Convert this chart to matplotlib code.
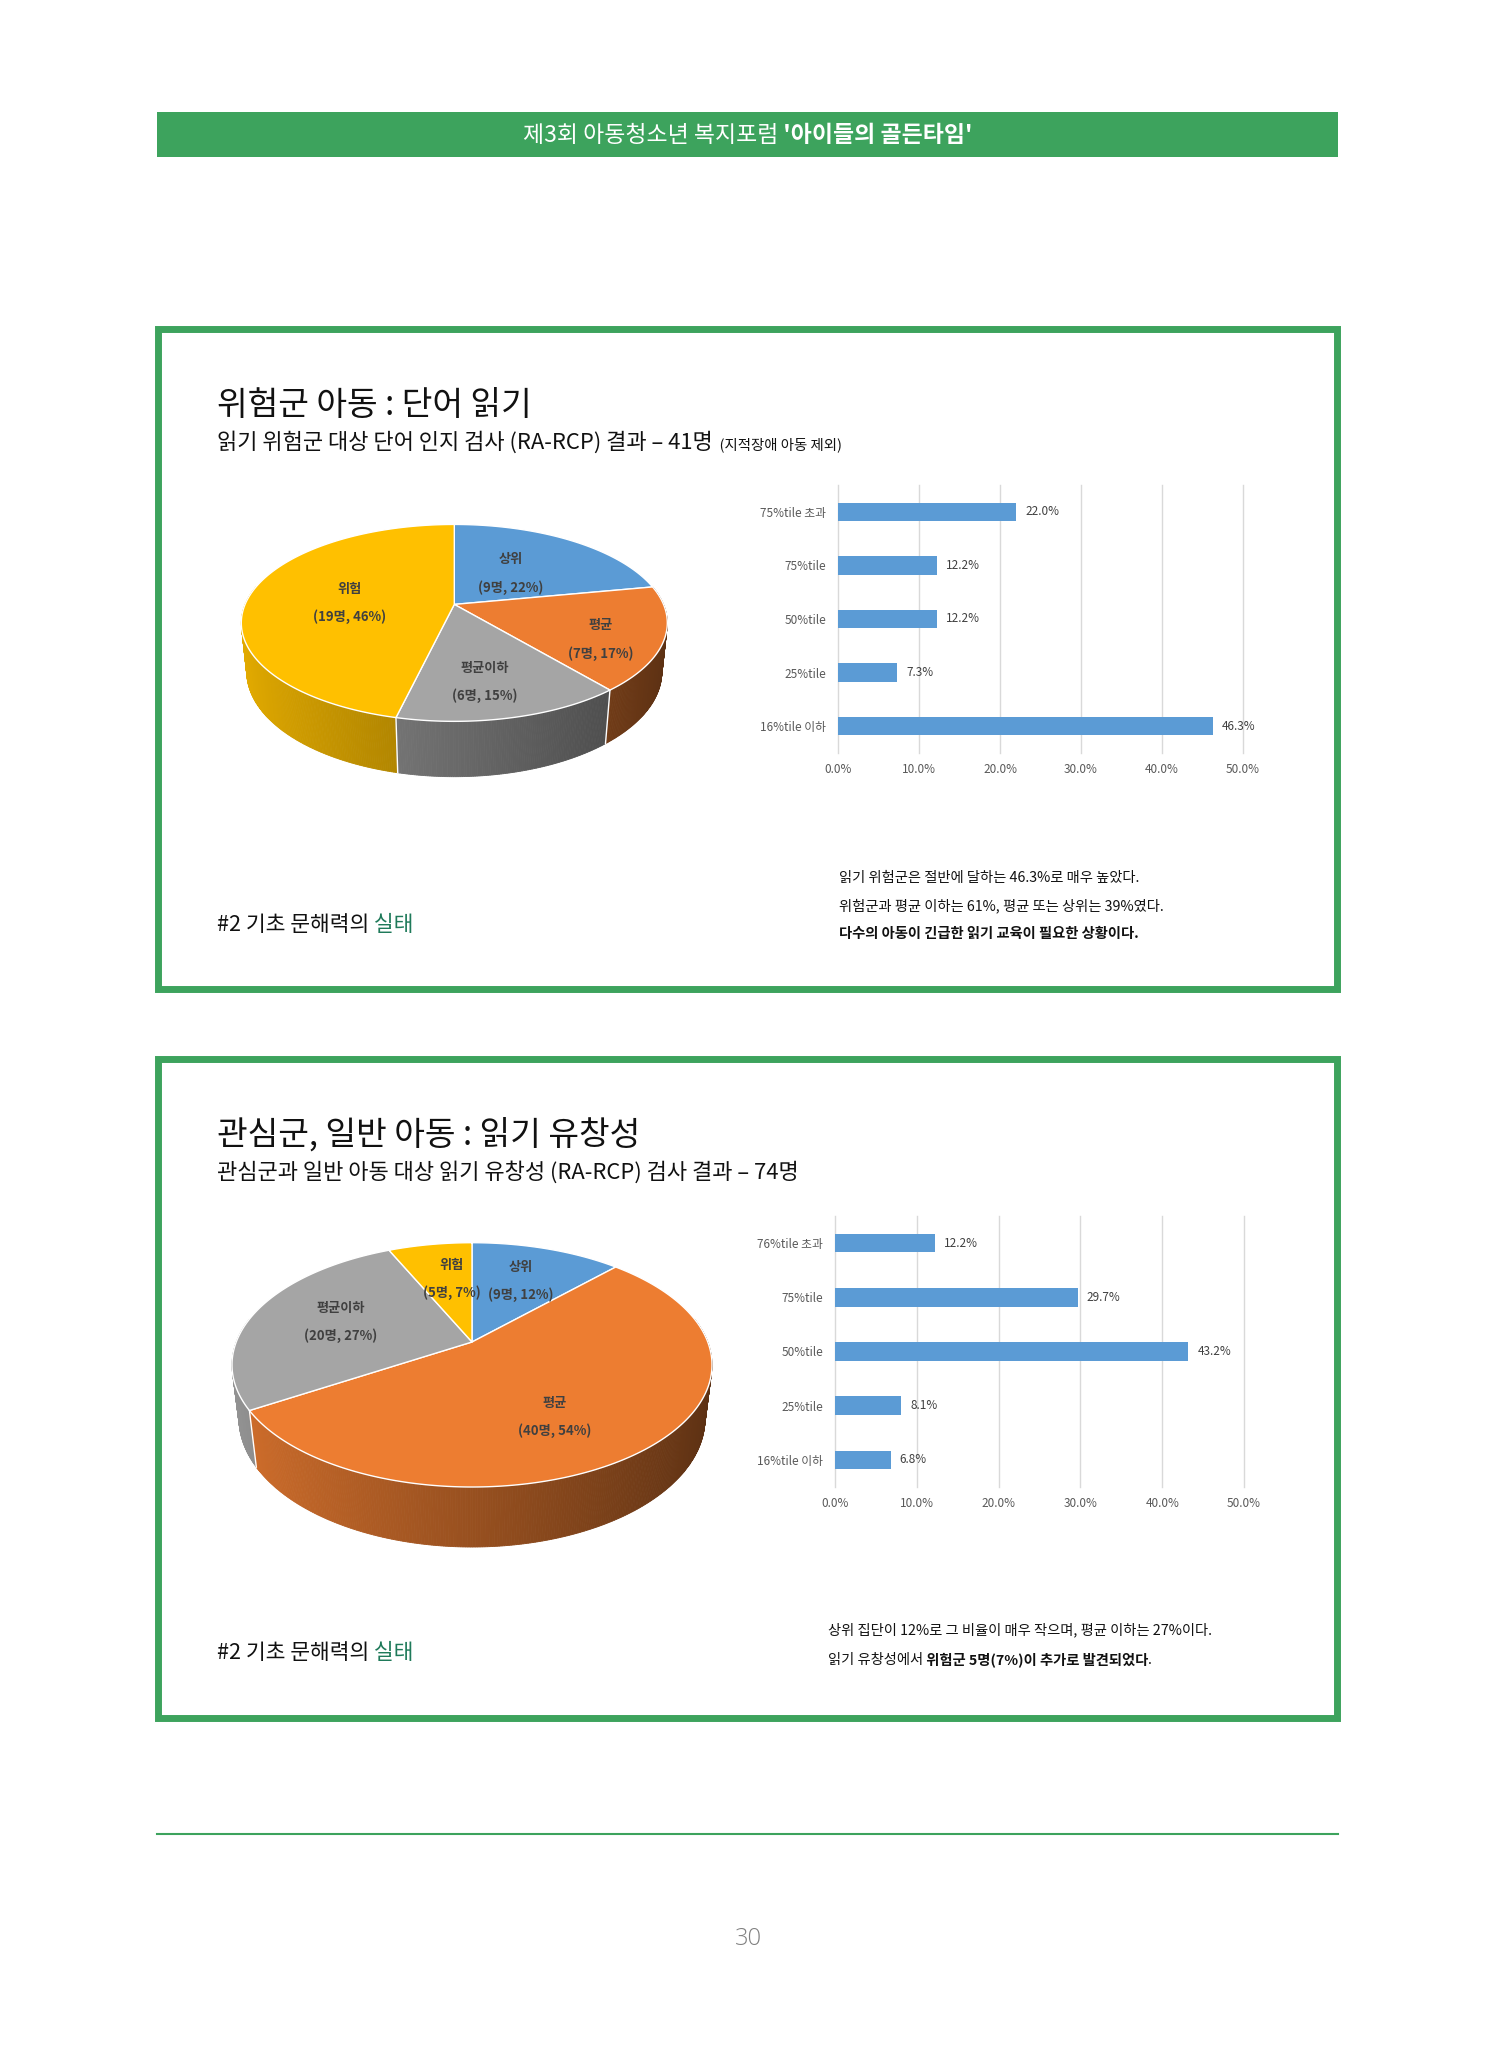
import numpy as np
import matplotlib
matplotlib.use("Agg")
import matplotlib.pyplot as plt
from matplotlib.patches import Polygon, Rectangle
from matplotlib.colors import to_rgb

W, H = 1496, 2047
KR = ['Noto Sans CJK KR', 'DejaVu Sans']
plt.rcParams['font.family'] = KR

# ---------------- data ----------------
header_normal = "제3회 아동청소년 복지포럼"
header_bold = " '아이들의 골든타임'"

title1 = "위험군 아동 : 단어 읽기"
subtitle1 = "읽기 위험군 대상 단어 인지 검사 (RA-RCP) 결과 – 41명"
subtitle1_note = "  (지적장애 아동 제외)"
pie1_labels = ["상위", "평균", "평균이하", "위험"]
pie1_counts = [9, 7, 6, 19]
pie1_pcts = [22, 17, 15, 46]
bar1_categories = ["75%tile 초과", "75%tile", "50%tile", "25%tile", "16%tile 이하"]
bar1_values = [22.0, 12.2, 12.2, 7.3, 46.3]
notes1 = ["읽기 위험군은 절반에 달하는 46.3%로 매우 높았다.",
          "위험군과 평균 이하는 61%, 평균 또는 상위는 39%였다.",
          "다수의 아동이 긴급한 읽기 교육이 필요한 상황이다."]

title2 = "관심군, 일반 아동 : 읽기 유창성"
subtitle2 = "관심군과 일반 아동 대상 읽기 유창성 (RA-RCP) 검사 결과 – 74명"
pie2_labels = ["상위", "평균", "평균이하", "위험"]
pie2_counts = [9, 40, 20, 5]
pie2_pcts = [12, 54, 27, 7]
bar2_categories = ["76%tile 초과", "75%tile", "50%tile", "25%tile", "16%tile 이하"]
bar2_values = [12.2, 29.7, 43.2, 8.1, 6.8]
notes2_line1 = "상위 집단이 12%로 그 비율이 매우 작으며, 평균 이하는 27%이다."
notes2_line2 = ["읽기 유창성에서", " 위험군 5명(7%)이 추가로 발견되었다", "."]

section_label = "#2 기초 문해력의"
section_label_green = " 실태"
page_number = "30"

slice_colors = {"상위": "#5B9BD5", "평균": "#ED7D31", "평균이하": "#A5A5A5", "위험": "#FFC000"}
GREEN = "#3DA35D"
DARK_GREEN = "#1F7A5A"
INK = "#111111"

# ---------------- figure ----------------
fig = plt.figure(figsize=(W / 100, H / 100), dpi=100)
ax = fig.add_axes([0, 0, 1, 1])
ax.set_xlim(0, W)
ax.set_ylim(H, 0)
ax.axis("off")


def rich(x, y, parts, ha="left"):
    objs = [ax.text(0, y, s, fontsize=sz, fontweight=w, color=col, family=KR,
                    va="baseline", ha="left") for s, w, col, sz in parts]
    r = fig.canvas.get_renderer()
    widths = [o.get_window_extent(r).width for o in objs]
    total = sum(widths)
    start = x - total / 2 if ha == "center" else x
    for o, wd in zip(objs, widths):
        o.set_x(start)
        start += wd


# header bar
ax.add_patch(Rectangle((157, 112), 1338 - 157, 45, facecolor=GREEN, edgecolor="none"))
rich(747.5, 142, [(header_normal, "normal", "white", 16.5),
                  (header_bold, "bold", "white", 16.5)], ha="center")

# boxes
for (y0, y1) in [(328.5, 988.5), (1058.5, 1717.5)]:
    ax.add_patch(Rectangle((158.5, y0), 1337.5 - 158.5, y1 - y0, facecolor="white",
                           edgecolor=GREEN, lw=5.0))

# titles
ax.text(217, 406, title1, fontsize=24, va="center", ha="left", color=INK)
rich(217, 449, [(subtitle1, "normal", INK, 15.85), (subtitle1_note, "normal", INK, 10.4)])
ax.text(217, 1135, title2, fontsize=24, va="center", ha="left", color=INK)
ax.text(217, 1172, subtitle2, fontsize=15.85, va="center", ha="left", color=INK)


def pie3d(counts, labels, pcts, cx, cy, rx, D, phi_deg, h, label_r, label_shift):
    s, c = np.sin(np.radians(phi_deg)), np.cos(np.radians(phi_deg))
    k = rx * np.sqrt(D ** 2 - c ** 2)

    def proj(th, r=1.0, y=0.0):
        X = r * np.cos(th)
        Z = r * np.sin(th)
        qy = y - D * s
        qz = Z + D * c
        d = -qy * s + qz * c
        u = qy * c + qz * s
        return (cx + k * X / d, cy - k * u / d)

    colors = [slice_colors[l] for l in labels]
    fr = np.array(counts, float) / np.sum(counts)
    bounds = np.radians(90 - 360 * np.concatenate([[0], np.cumsum(fr)]))
    quads = []
    for i in range(len(counts)):
        a0, a1 = bounds[i], bounds[i + 1]
        m = max(2, int(np.degrees(a0 - a1) * 2))
        ts = np.linspace(a0, a1, m + 1)
        base = np.array(to_rgb(colors[i]))
        for ta, tb in zip(ts[:-1], ts[1:]):
            tm = (ta + tb) / 2
            if np.sin(tm) > 0.2:
                continue
            f = 0.64 - 0.26 * np.cos(tm)
            col = np.clip(base * f, 0, 1)
            pts = [proj(ta), proj(tb), proj(tb, y=-h), proj(ta, y=-h)]
            quads.append((np.sin(tm), pts, col))
    quads.sort(key=lambda q: -q[0])
    for _, pts, col in quads:
        ax.add_patch(Polygon(pts, closed=True, facecolor=col, edgecolor=col, lw=0.6))
    for b in bounds:
        if np.sin(b) < -0.05:
            p0, p1 = proj(b), proj(b, y=-h)
            ax.plot([p0[0], p1[0]], [p0[1], p1[1]], color="white", lw=1.0)
    for i in range(len(counts)):
        a0, a1 = bounds[i], bounds[i + 1]
        ts = np.linspace(a0, a1, 200)
        pts = [(cx, cy)] + [proj(t) for t in ts]
        ax.add_patch(Polygon(pts, closed=True, facecolor=colors[i], edgecolor="white",
                             lw=1.0, joinstyle="round"))
    for i in range(len(counts)):
        tm = (bounds[i] + bounds[i + 1]) / 2 + np.radians(label_shift[i])
        x, y = proj(tm, r=label_r[i])
        ax.text(x, y - 14, labels[i], ha="center", va="center", fontsize=9.5,
                fontweight="bold", color="#404040")
        ax.text(x, y + 14, f"({counts[i]}명, {pcts[i]}%)", ha="center", va="center",
                fontsize=9.5, fontweight="bold", color="#404040")


pie3d(pie1_counts, pie1_labels, pie1_pcts, 454.3, 604.4, 213, 4.744, 27, 0.2646,
      [0.45, 0.74, 0.72, 0.5], [0, -8, -3, 5])
pie3d(pie2_counts, pie2_labels, pie2_pcts, 472, 1342, 240, 4.63, 30, 0.268,
      [0.62, 0.65, 0.6, 0.6], [0, -10, 0, -3])


def bar_chart(x0, x1, y0, y1, cats, vals):
    axb = fig.add_axes([x0 / W, 1 - y1 / H, (x1 - x0) / W, (y1 - y0) / H])
    axb.patch.set_alpha(0)
    y = np.arange(len(cats))
    axb.barh(y, vals, height=0.34, color="#5B9BD5", zorder=3)
    axb.set_xlim(0, 50)
    axb.set_ylim(len(cats) - 0.5, -0.5)
    ticks = np.arange(0, 51, 10)
    axb.set_xticks(ticks)
    axb.set_xticklabels([f"{t:.1f}%" for t in ticks])
    axb.set_yticks(y)
    axb.set_yticklabels(cats)
    axb.xaxis.grid(True, color="#D9D9D9", lw=1.0)
    for gl in axb.get_xgridlines():
        gl.set_clip_on(False)
    axb.set_axisbelow(True)
    for sp in axb.spines.values():
        sp.set_visible(False)
    axb.tick_params(axis="both", length=0, labelsize=8.5, colors="#595959")
    axb.tick_params(axis="y", pad=8.5)
    axb.tick_params(axis="x", pad=7)
    for yi, v in zip(y, vals):
        axb.text(v + 1.1, yi, f"{v:.1f}%", va="center", ha="left", fontsize=8.5, color="#404040")


bar_chart(838, 1243, 485, 753, bar1_categories, bar1_values)
bar_chart(835, 1244, 1216, 1487, bar2_categories, bar2_values)

# section labels
for yb in (931, 1659):
    rich(217, yb, [(section_label, "normal", INK, 15.5), (section_label_green, "normal", DARK_GREEN, 15.5)])

# notes
for i, line in enumerate(notes1):
    ax.text(839, 878 + 28 * i, line, fontsize=10.3, va="center", ha="left",
            fontweight="bold" if i == 2 else "normal", color=INK)
ax.text(828, 1630, notes2_line1, fontsize=10.3, va="center", ha="left", color=INK)
rich(828, 1664, [(notes2_line2[0], "normal", INK, 10.3), (notes2_line2[1], "bold", INK, 10.3),
                 (notes2_line2[2], "normal", INK, 10.3)])

# footer
ax.plot([157, 1338], [1834, 1834], color=GREEN, lw=1.5)
ax.text(748, 1939, page_number, fontsize=17, ha="center", va="center", color="#808080",
        family=["Open Sans", "DejaVu Sans"], fontweight="light")

fig.savefig("out.png", dpi=100)
